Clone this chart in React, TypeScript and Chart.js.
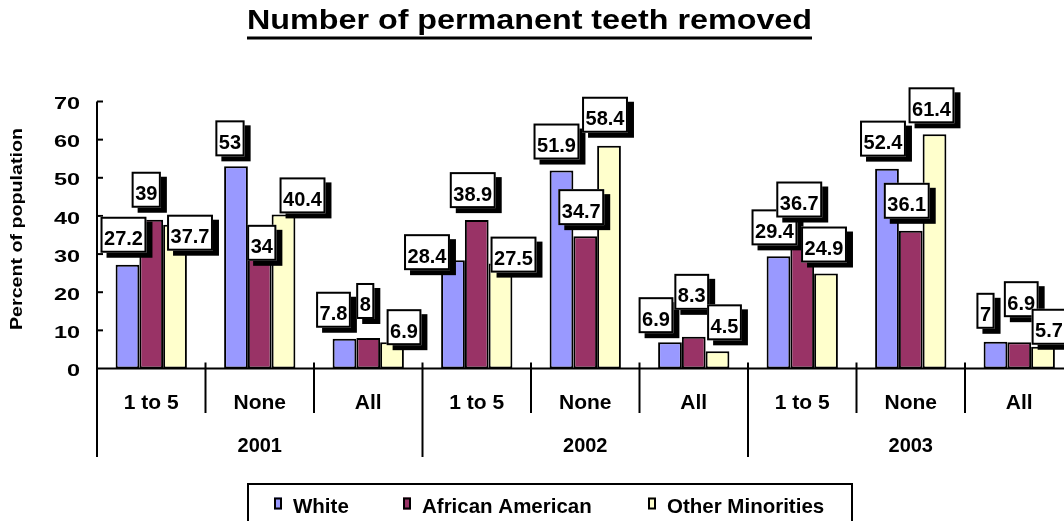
import React, { useEffect, useRef } from "react";
import { Chart, registerables } from "chart.js";

Chart.register(...registerables);

// ---- data ----
const YEARS = ["2001", "2002", "2003"];
const GROUPS = ["1 to 5", "None", "All"];
const SERIES_NAMES = ["White", "African American", "Other Minorities"];
const WHITE = [27.2, 53, 7.8, 28.4, 51.9, 6.9, 29.4, 52.4, 7];
const AFRICAN_AMERICAN = [39, 34, 8, 38.9, 34.7, 8.3, 36.7, 36.1, 6.9];
const OTHER_MINORITIES = [37.7, 40.4, 6.9, 27.5, 58.4, 4.5, 24.9, 61.4, 5.7];
const Y_TICKS = [0, 10, 20, 30, 40, 50, 60, 70];
const TITLE = "Number of permanent teeth removed";
const Y_TITLE = "Percent of population";

// ---- label placement tweaks (px, relative to top-centre of each bar) ----
const LABEL_DX = [
  [-4, -6, -11, -26, -5, -14, -4, -4, -10],
  [-5, 2, -3, -4, -4, -2, -3, -4, 2],
  [15, 19, 12, 13, -4, 7, -2, -3, 6],
];
const LABEL_DY = [
  [-12, -10, -11, 10, -11, -9, -11, -12, -13],
  [-12, 22, -19, -12, -11, -27, -11, -12, -25],
  [26, -1, 3, 9, -13, -11, -11, -11, -2],
];

// ---- styles ----
const COLORS = ["#9999FF", "#993366", "#FFFFCC"];
const FONT = '"Liberation Sans", Arial, Helvetica, sans-serif';
const LEGEND_MARK_X = [274, 403, 648];

const CATEGORY_LABELS: string[] = [];
YEARS.forEach(() => GROUPS.forEach((g) => CATEGORY_LABELS.push(g)));

const drawPlugin = {
  id: "customDraw",
  afterDatasetsDraw(chart: any) {
    const ctx: CanvasRenderingContext2D = chart.ctx;
    const xs = chart.scales.x;
    const ys = chart.scales.y;
    const area = chart.chartArea;
    const L = area.left;
    const B = ys.getPixelForValue(0);
    ctx.save();
    ctx.fillStyle = "#000";
    ctx.strokeStyle = "#000";

    // title
    ctx.font = `bold 27px ${FONT}`;
    const tw = ctx.measureText(TITLE).width;
    ctx.save();
    ctx.translate(247, 29);
    ctx.scale(565 / tw, 1);
    ctx.textAlign = "left";
    ctx.textBaseline = "alphabetic";
    ctx.fillText(TITLE, 0, 0);
    ctx.restore();
    ctx.fillRect(247, 36.5, 565, 3);

    // y title
    ctx.font = `bold 16px ${FONT}`;
    const yw = ctx.measureText(Y_TITLE).width;
    ctx.save();
    ctx.translate(18, 229);
    ctx.rotate(-Math.PI / 2);
    ctx.scale(202 / yw, 1);
    ctx.textAlign = "center";
    ctx.textBaseline = "middle";
    ctx.fillText(Y_TITLE, 0, 0);
    ctx.restore();

    // axes
    ctx.lineWidth = 2;
    ctx.beginPath();
    ctx.moveTo(L, area.top);
    ctx.lineTo(L, 457);
    ctx.stroke();
    ctx.beginPath();
    ctx.moveTo(L - 1, B);
    ctx.lineTo(area.right, B);
    ctx.stroke();

    // y ticks
    ctx.font = `bold 17px ${FONT}`;
    for (const v of Y_TICKS) {
      const py = ys.getPixelForValue(v);
      if (v > 0) {
        ctx.beginPath();
        ctx.moveTo(L, py);
        ctx.lineTo(L + 6, py);
        ctx.stroke();
      }
      ctx.save();
      ctx.translate(80, py + 3);
      ctx.scale(1.38, 1);
      ctx.textAlign = "right";
      ctx.textBaseline = "middle";
      ctx.fillText(String(v), 0, 0);
      ctx.restore();
    }

    // category separators / labels
    const n = chart.data.labels.length;
    const cw = xs.getPixelForValue(1) - xs.getPixelForValue(0);
    const start = xs.getPixelForValue(0) - cw / 2;
    for (let i = 1; i <= n; i++) {
      const px = start + i * cw;
      ctx.beginPath();
      ctx.moveTo(px, B - 6);
      ctx.lineTo(px, i % GROUPS.length === 0 ? 457 : 413);
      ctx.stroke();
    }
    ctx.textAlign = "center";
    ctx.textBaseline = "alphabetic";
    ctx.font = `bold 21px ${FONT}`;
    for (let i = 0; i < n; i++) {
      ctx.fillText(chart.data.labels[i], xs.getPixelForValue(i), 409);
    }
    ctx.font = `bold 20px ${FONT}`;
    YEARS.forEach((yr, g) => {
      const cx = start + (g * GROUPS.length + GROUPS.length / 2) * cw;
      ctx.fillText(yr, cx, 451.5);
    });

    // data labels
    ctx.font = `bold 20px ${FONT}`;
    chart.data.datasets.forEach((ds: any, d: number) => {
      const meta = chart.getDatasetMeta(d);
      meta.data.forEach((el: any, i: number) => {
        const text = String(ds.data[i]);
        const w = ctx.measureText(text).width + 7;
        const h = 36;
        const cx = el.x + LABEL_DX[d][i];
        const bottom = el.y + LABEL_DY[d][i];
        const left = cx - w / 2;
        const top = bottom - h;
        ctx.fillStyle = "#000";
        ctx.fillRect(left + 6, top + 5, w, h);
        ctx.fillStyle = "#fff";
        ctx.fillRect(left, top, w, h);
        ctx.lineWidth = 2;
        ctx.strokeRect(left + 1, top + 1, w - 2, h - 2);
        ctx.fillStyle = "#000";
        ctx.textAlign = "center";
        ctx.textBaseline = "alphabetic";
        ctx.fillText(text, cx, top + 28.5);
      });
    });

    // legend
    ctx.lineWidth = 2;
    ctx.strokeRect(248, 484, 604, 60);
    ctx.font = `bold 20.5px ${FONT}`;
    ctx.textAlign = "left";
    chart.data.datasets.forEach((ds: any, d: number) => {
      const mx = LEGEND_MARK_X[d];
      ctx.fillStyle = ds.backgroundColor;
      ctx.fillRect(mx, 497.5, 8, 12);
      ctx.lineWidth = 2;
      ctx.strokeRect(mx + 1, 498.5, 6, 10);
      ctx.fillStyle = "#000";
      ctx.fillText(ds.label, mx + 19, 512.5);
    });

    ctx.restore();
  },
};

export default function App() {
  const ref = useRef<HTMLCanvasElement | null>(null);

  useEffect(() => {
    document.body.style.margin = "0";
    const canvas = ref.current;
    if (!canvas) return;
    const seriesValues = [WHITE, AFRICAN_AMERICAN, OTHER_MINORITIES];
    const chart = new Chart(canvas, {
      type: "bar",
      data: {
        labels: CATEGORY_LABELS,
        datasets: seriesValues.map((vals, d) => ({
          label: SERIES_NAMES[d],
          data: vals,
          backgroundColor: COLORS[d],
          borderColor: "#000",
          borderWidth: 2,
          borderSkipped: false,
          barPercentage: 1,
          categoryPercentage: 0.657,
        })),
      },
      options: {
        responsive: false,
        maintainAspectRatio: false,
        animation: false,
        devicePixelRatio: 1,
        layout: { padding: { left: 97, right: 26.5, top: 101.5, bottom: 152.5 } },
        scales: {
          x: { display: false },
          y: { display: false, min: 0, max: 70 },
        },
        plugins: {
          legend: { display: false },
          title: { display: false },
          tooltip: { enabled: false },
        },
      },
      plugins: [drawPlugin],
    });
    return () => chart.destroy();
  }, []);

  return (
    <div
      style={{
        position: "fixed",
        left: 0,
        top: 0,
        width: 1064,
        height: 521,
        overflow: "hidden",
        background: "#fff",
      }}
    >
      <canvas ref={ref} width={1100} height={521} style={{ width: 1100, height: 521, display: "block" }} />
    </div>
  );
}
